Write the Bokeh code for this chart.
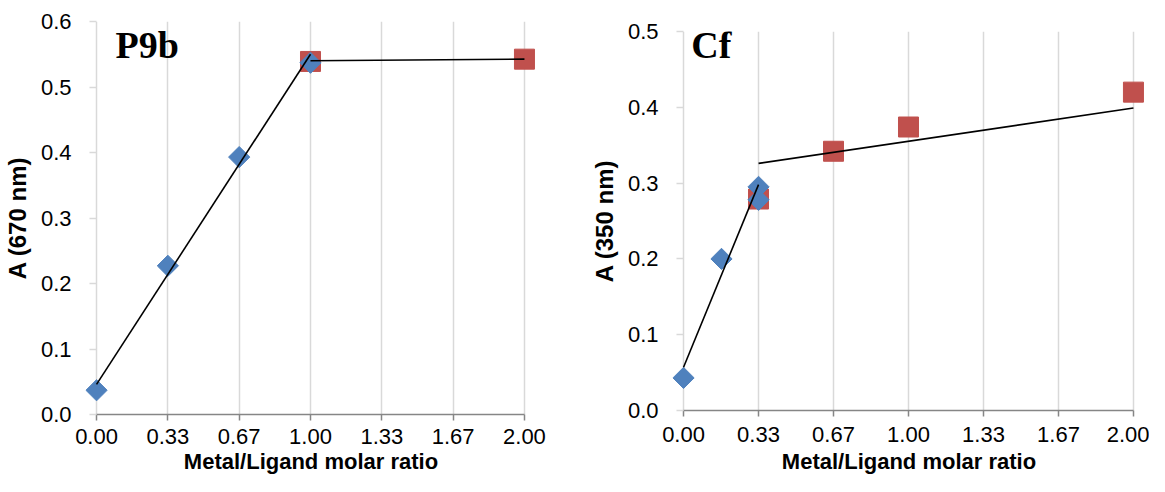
import numpy as np
from bokeh.plotting import figure
from bokeh.layouts import row
from bokeh.models import Range1d, FixedTicker, Label, NumeralTickFormatter
from bokeh.embed import file_html
from bokeh.resources import INLINE

# ---- axis categories (equally spaced ratio ticks) ----
x_ticks = [0.00, 0.33, 0.67, 1.00, 1.33, 1.67, 2.00]
x_tick_labels = ["0.00", "0.33", "0.67", "1.00", "1.33", "1.67", "2.00"]
x_slots = list(range(len(x_ticks)))
x_title = "Metal/Ligand molar ratio"

# ---- P9b panel (A at 670 nm) ----
p9b_free_x = [0.00, 0.33, 0.67, 1.00]
p9b_free_y = [0.037, 0.227, 0.393, 0.537]
p9b_sat_x = [1.00, 2.00]
p9b_sat_y = [0.539, 0.5425]
p9b_fit1_x = [0.00, 1.00]
p9b_fit1_y = [0.046, 0.550]
p9b_fit2_x = [1.00, 2.00]
p9b_fit2_y = [0.540, 0.5425]
p9b_y_ticks = [0.0, 0.1, 0.2, 0.3, 0.4, 0.5, 0.6]

# ---- Cf panel (A at 350 nm) ----
cf_free_x = [0.00, 0.167, 0.33, 0.33]
cf_free_y = [0.043, 0.200, 0.295, 0.278]
cf_sat_x = [0.33, 0.67, 1.00, 2.00]
cf_sat_y = [0.279, 0.342, 0.374, 0.420]
cf_fit1_x = [0.00, 0.33]
cf_fit1_y = [0.057, 0.298]
cf_fit2_x = [0.33, 2.00]
cf_fit2_y = [0.326, 0.399]
cf_y_ticks = [0.0, 0.1, 0.2, 0.3, 0.4, 0.5]

BLUE = "#4F81BD"
RED = "#C0504D"
GRID = "#D9D9D9"
AXIS = "#868686"
FONT = "Liberation Sans"


def slot(v):
    return np.interp(v, x_ticks, x_slots)


def make_panel(width, height, border_left, border_right, border_top,
               pad_left, pad_right, y_ticks, y_label, tag, tag_x, tag_y,
               free_x, free_y, sat_x, sat_y, fits, tick_std, xlab_std):
    p = figure(width=width, height=height, output_backend="svg",
               toolbar_location=None, tools="",
               x_range=Range1d(-pad_left, x_slots[-1] + pad_right),
               y_range=Range1d(y_ticks[0], y_ticks[-1]),
               min_border_left=border_left, min_border_right=border_right,
               min_border_top=border_top, min_border_bottom=0)
    p.frame_align = False
    p.outline_line_color = None
    p.background_fill_color = "white"
    p.border_fill_color = "white"

    # x axis
    xa = p.xaxis[0]
    xa.ticker = FixedTicker(ticks=x_slots)
    xa.major_label_overrides = {i: s for i, s in zip(x_slots, x_tick_labels)}
    xa.bounds = (x_slots[0], x_slots[-1])
    xa.axis_line_color = AXIS
    xa.axis_line_width = 1.5
    xa.major_tick_line_color = AXIS
    xa.major_tick_line_width = 1.5
    xa.major_tick_in = 0
    xa.major_tick_out = 6
    xa.minor_tick_line_color = None
    xa.major_label_text_font = FONT
    xa.major_label_text_font_size = "22px"
    xa.major_label_text_color = "black"
    xa.major_label_standoff = tick_std
    xa.axis_label = x_title
    xa.axis_label_text_font = FONT
    xa.axis_label_text_font_size = "22px"
    xa.axis_label_text_font_style = "bold"
    xa.axis_label_text_color = "black"
    xa.axis_label_standoff = xlab_std

    # y axis
    ya = p.yaxis[0]
    ya.ticker = FixedTicker(ticks=y_ticks)
    ya.formatter = NumeralTickFormatter(format="0.0")
    ya.axis_line_color = None
    ya.major_tick_line_color = GRID
    ya.major_tick_line_width = 1.5
    ya.major_tick_in = 11
    ya.major_tick_out = -4
    ya.minor_tick_line_color = None
    ya.major_label_text_font = FONT
    ya.major_label_text_font_size = "22px"
    ya.major_label_text_color = "black"
    ya.major_label_standoff = 14
    ya.axis_label = y_label
    ya.axis_label_text_font = FONT
    ya.axis_label_text_font_size = "24px"
    ya.axis_label_text_font_style = "bold"
    ya.axis_label_text_color = "black"
    ya.axis_label_standoff = 7

    # grid
    p.xgrid.ticker = FixedTicker(ticks=x_slots)
    p.xgrid.grid_line_color = GRID
    p.xgrid.grid_line_width = 1.5
    p.ygrid.grid_line_color = None

    # markers
    p.scatter(slot(sat_x), sat_y, marker="square", size=20,
              fill_color=RED, line_color=RED)
    p.scatter(slot(free_x), free_y, marker="square", size=15, angle=np.pi / 4,
              fill_color=BLUE, line_color=BLUE)
    for fx, fy in fits:
        p.line(slot(fx), fy, line_color="black", line_width=1.6)

    p.add_layout(Label(x=tag_x, y=tag_y, text=tag,
                       text_font="Liberation Serif", text_font_style="bold",
                       text_font_size="38px", text_color="black",
                       text_baseline="alphabetic", text_align="left"))
    return p


left = make_panel(587, 476, 79, 51, 21, 11 / 71.05, 12 / 71.05,
                  p9b_y_ticks, "A (670 nm)", "P9b", 0.267, 0.5641,
                  p9b_free_x, p9b_free_y, p9b_sat_x, p9b_sat_y,
                  [(p9b_fit1_x, p9b_fit1_y), (p9b_fit2_x, p9b_fit2_y)],
                  8, 2)
right = make_panel(562, 476, 79, 4, 31, 11 / 74.67, 12 / 74.67,
                   cf_y_ticks, "A (350 nm)", "Cf", 0.103, 0.4823,
                   cf_free_x, cf_free_y, cf_sat_x, cf_sat_y,
                   [(cf_fit1_x, cf_fit1_y), (cf_fit2_x, cf_fit2_y)],
                   10, 4)

layout = row(left, right)
open("out.html", "w").write(file_html(layout, INLINE))
